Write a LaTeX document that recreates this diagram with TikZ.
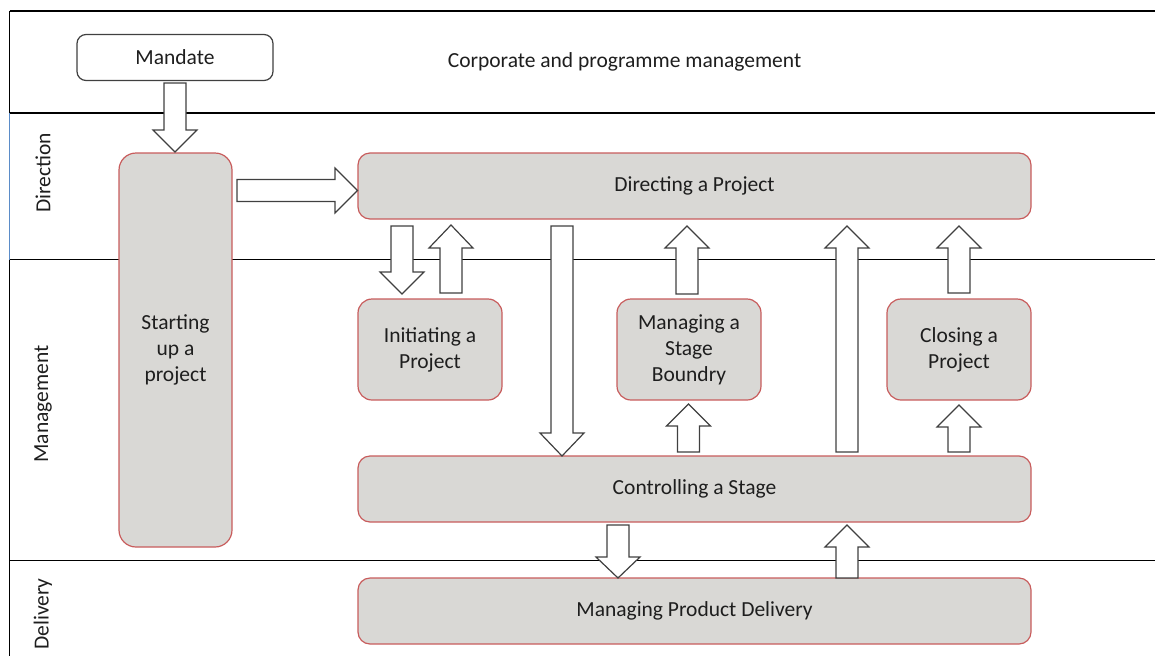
\documentclass[tikz,border=0pt]{standalone}
\usepackage{fontspec}
\setmainfont{Carlito}
\definecolor{boxfill}{RGB}{217,216,213}
\definecolor{boxred}{RGB}{200,92,92}
\definecolor{arrowgray}{RGB}{64,64,64}
\definecolor{txt}{RGB}{30,30,30}
\definecolor{laneblue}{RGB}{91,140,200}
\tikzset{
  lane/.style={line width=1.4pt, black},
  procbox/.style={draw=boxred, fill=boxfill, line width=1.2pt, rounded corners=14pt,
    align=center, text=txt, inner sep=0pt, font=\fontsize{21.5}{26}\selectfont},
  mandbox/.style={draw=arrowgray, fill=white, line width=1.2pt, rounded corners=9pt,
    align=center, text=txt, inner sep=0pt, font=\fontsize{21.5}{26}\selectfont},
  lbl/.style={text=txt, inner sep=0pt, font=\fontsize{21.5}{26}\selectfont},
  blk/.style={draw=arrowgray, fill=white, line width=1.2pt, line join=miter}
}
% vertical block arrow: centre x, shaft end y, head base y, tip y
\newcommand\blkv[4]{%
  \draw[blk] ({#1-11},#2) -- ({#1+11},#2) -- ({#1+11},#3) -- ({#1+22},#3) -- (#1,#4)
    -- ({#1-22},#3) -- ({#1-11},#3) -- cycle;}
\begin{document}
\begin{tikzpicture}[x=1pt,y=-1pt]
\useasboundingbox (0,0) rectangle (1155,656);
% lanes
\draw[lane] (9.5,11) -- (1155,11);
\draw[lane] (9.5,11) -- (9.5,113);
\draw[line width=1.2pt, laneblue] (9.5,113) -- (9.5,259.5);
\draw[lane] (9.5,259.5) -- (9.5,656);
\draw[lane] (9.5,113) -- (1155,113);
\draw[lane] (9.5,259.5) -- (1155,259.5);
\draw[lane] (9.5,560.5) -- (1155,560.5);
% lane labels
\node[lbl, rotate=90] (lDir) at (43,173) {Direction};
\node[lbl, rotate=90] (lMan) at (43,404) {Management};
\node[lbl, rotate=90] (lDel) at (43,614) {Delivery};
\node[lbl] (corp) at (624.5,62) {Corporate and programme management};
% boxes
\node[mandbox, minimum width=196pt, minimum height=46pt] (mand) at (175,57.5) {Mandate};
\node[procbox, rounded corners=17pt, minimum width=113pt, minimum height=394pt] (sup) at (175.5,350) {Starting\\up a\\project};
\node[procbox, rounded corners=12pt, minimum width=673pt, minimum height=66pt] (dap) at (694.5,186) {Directing a Project};
\node[procbox, minimum width=144pt, minimum height=101pt] (iap) at (430,349.5) {Initiating a\\Project};
\node[procbox, minimum width=144pt, minimum height=101pt] (msb) at (689,349.5) {Managing a\\Stage\\Boundry};
\node[procbox, minimum width=144pt, minimum height=101pt] (cap) at (959,349.5) {Closing a\\Project};
\node[procbox, rounded corners=12pt, minimum width=673pt, minimum height=66pt] (cs) at (694.5,489) {Controlling a Stage};
\node[procbox, rounded corners=12pt, minimum width=673pt, minimum height=66pt] (mpd) at (694.5,611) {Managing Product Delivery};
% block arrows
\blkv{175}{83}{130}{152}
\draw[blk] (237,179.5) -- (335,179.5) -- (335,168) -- (357.5,190.5) -- (335,213) -- (335,201.5) -- (237,201.5) -- cycle;
\blkv{402}{226}{272}{294}
\blkv{451}{293}{248}{225}
\blkv{562}{226}{433}{456}
\blkv{687}{294}{248}{226}
\blkv{688.5}{452}{426}{404}
\blkv{847}{452}{248}{226}
\blkv{959}{293}{248}{226}
\blkv{959}{452}{427}{405}
\blkv{618}{525}{557}{578}
\blkv{847}{578}{547}{525}
\end{tikzpicture}
\end{document}
